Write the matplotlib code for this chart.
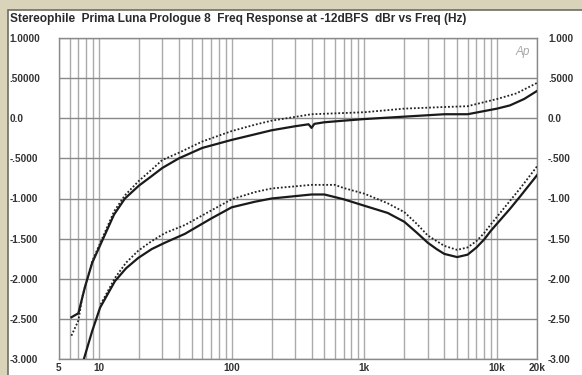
import numpy as np
import matplotlib
matplotlib.use("Agg")
from matplotlib import pyplot as plt
from matplotlib.ticker import LogLocator, FixedLocator, NullFormatter
from matplotlib.patches import Rectangle

# readings (Hz, dBr)
upper_solid_f = [6.2, 7.0, 7.85, 8.9, 11.1, 13, 15.7, 20, 25, 30, 40, 60, 100, 150, 200, 300, 380, 400, 420,
                 500, 700, 1000, 2000, 4000, 6000, 10000, 12500, 16000, 20000]
upper_solid_v = [-2.48, -2.43, -2.10, -1.80, -1.45, -1.20, -1.00, -0.84, -0.72, -0.62, -0.50, -0.37, -0.27,
                 -0.20, -0.15, -0.10, -0.075, -0.12, -0.07, -0.05, -0.03, -0.01, 0.02, 0.05, 0.05, 0.12,
                 0.16, 0.24, 0.34]

upper_dot_f = [6.2, 7.0, 7.5, 8.9, 11.1, 13, 15.7, 20, 25, 30, 40, 60, 100, 150, 200, 400, 700, 1000, 2000,
               4000, 6000, 10000, 14000, 20000]
upper_dot_v = [-2.71, -2.52, -2.22, -1.78, -1.42, -1.16, -0.96, -0.78, -0.64, -0.52, -0.43, -0.29, -0.16,
               -0.08, -0.03, 0.05, 0.065, 0.075, 0.12, 0.14, 0.15, 0.24, 0.31, 0.44]

lower_solid_f = [7.7, 8.9, 10.2, 13.2, 16, 19.8, 25, 31.5, 44.5, 70, 100, 150, 200, 400, 500, 700, 1000,
                 1500, 2000, 2500, 3000, 3500, 4000, 5000, 6000, 7000, 8000, 9000, 12500, 15000, 20000]
lower_solid_v = [-3.0, -2.65, -2.36, -2.03, -1.87, -1.74, -1.63, -1.55, -1.44, -1.25, -1.11, -1.04, -1.00,
                 -0.95, -0.95, -1.01, -1.09, -1.18, -1.29, -1.43, -1.55, -1.63, -1.69, -1.73, -1.70, -1.61,
                 -1.51, -1.40, -1.13, -0.97, -0.71]

lower_dot_f = [10.3, 13.2, 16, 19.8, 25, 31.5, 44.5, 70, 100, 150, 200, 400, 600, 700, 1000, 1500, 2000,
               2500, 3000, 3500, 4000, 5000, 6000, 7000, 8000, 9000, 12500, 15000, 20000]
lower_dot_v = [-2.32, -1.99, -1.80, -1.65, -1.53, -1.43, -1.33, -1.15, -1.01, -0.92, -0.875, -0.83, -0.83,
               -0.87, -0.94, -1.06, -1.17, -1.32, -1.46, -1.53, -1.59, -1.64, -1.61, -1.53, -1.43, -1.32,
               -1.03, -0.87, -0.60]

y_ticks = [1.0, 0.5, 0.0, -0.5, -1.0, -1.5, -2.0, -2.5, -3.0]
left_labels = ['1.0000', '.50000', '0.0', '-.5000', '-1.000', '-1.500', '-2.000', '-2.500', '-3.000']
right_labels = ['1.000', '.5000', '0.0', '-.500', '-1.00', '-1.50', '-2.00', '-2.50', '-3.00']
x_ticks = [5, 10, 100, 1000, 10000, 20000]
x_labels = ['5', '10', '100', '1k', '10k', '20k']

title = 'Stereophile  Prima Luna Prologue 8  Freq Response at -12dBFS  dBr vs Freq (Hz)'

W, H = 582, 375
plt.rcParams['font.family'] = ['Liberation Sans', 'DejaVu Sans']
fig = plt.figure(figsize=(W / 100, H / 100), dpi=100, facecolor='#d9d3b9')

# white panel behind everything
panel = Rectangle((8 / W, -0.05), 1, 1.05 - 10 / H, transform=fig.transFigure,
                  facecolor='white', edgecolor='#6e6e68', linewidth=1.2, zorder=-10)
fig.patches.append(panel)

ax = fig.add_axes([59 / W, 16 / H, 478 / W, 321 / H])
ax.set_zorder(1)
ax.set_xscale('log')
ax.set_xlim(5, 20000)
ax.set_ylim(-3.0, 1.0)

ax.xaxis.set_major_locator(FixedLocator(x_ticks))
ax.xaxis.set_minor_locator(LogLocator(base=10, subs=np.arange(2, 10)))
ax.xaxis.set_minor_formatter(NullFormatter())
ax.set_xticklabels(x_labels)
ax.grid(True, which='both', axis='x', color='#aaaaaa', linewidth=1.0)
ax.set_yticks(y_ticks)
ax.grid(True, which='major', axis='y', color='#888888', linewidth=1.0)
ax.set_yticklabels(left_labels)
for lab in ax.get_yticklabels():
    lab.set_horizontalalignment('left')
ax.tick_params(axis='y', length=0, pad=35.5, labelsize=7.2, labelcolor='#333333')
ax.tick_params(axis='x', which='both', length=0, pad=3, labelsize=7.2, labelcolor='#333333')
for lab in ax.get_yticklabels() + ax.get_xticklabels():
    lab.set_fontweight('bold')
for s in ax.spines.values():
    s.set_color('#8a8a8a')
    s.set_linewidth(1.0)

ax2 = ax.twinx()
ax2.set_ylim(-3.0, 1.0)
ax2.set_yticks(y_ticks)
ax2.set_yticklabels(right_labels)
ax2.tick_params(axis='y', length=0, pad=8, labelsize=7.2, labelcolor='#333333')
for lab in ax2.get_yticklabels():
    lab.set_fontweight('bold')
for s in ax2.spines.values():
    s.set_visible(False)

ax.plot(upper_solid_f, upper_solid_v, color='#1a1a1a', linewidth=1.6, zorder=5)
ax.plot(lower_solid_f, lower_solid_v, color='#1a1a1a', linewidth=1.6, zorder=5)
ax.plot(upper_dot_f, upper_dot_v, color='#222222', linewidth=1.3, linestyle=(0, (1, 1.1)), zorder=5)
ax.plot(lower_dot_f, lower_dot_v, color='#222222', linewidth=1.3, linestyle=(0, (1, 1.1)), zorder=5)

ax.text(0.985, 0.975, 'Ap', transform=ax.transAxes, ha='right', va='top', fontsize=8.5,
        style='italic', color='#a8a8a8')

fig.text(10 / W, 1 - 19 / H, title, ha='left', va='center', fontsize=8.6, fontweight='bold',
         color='#2a2a2a')

fig.savefig('out.png', dpi=100, facecolor=fig.get_facecolor())
